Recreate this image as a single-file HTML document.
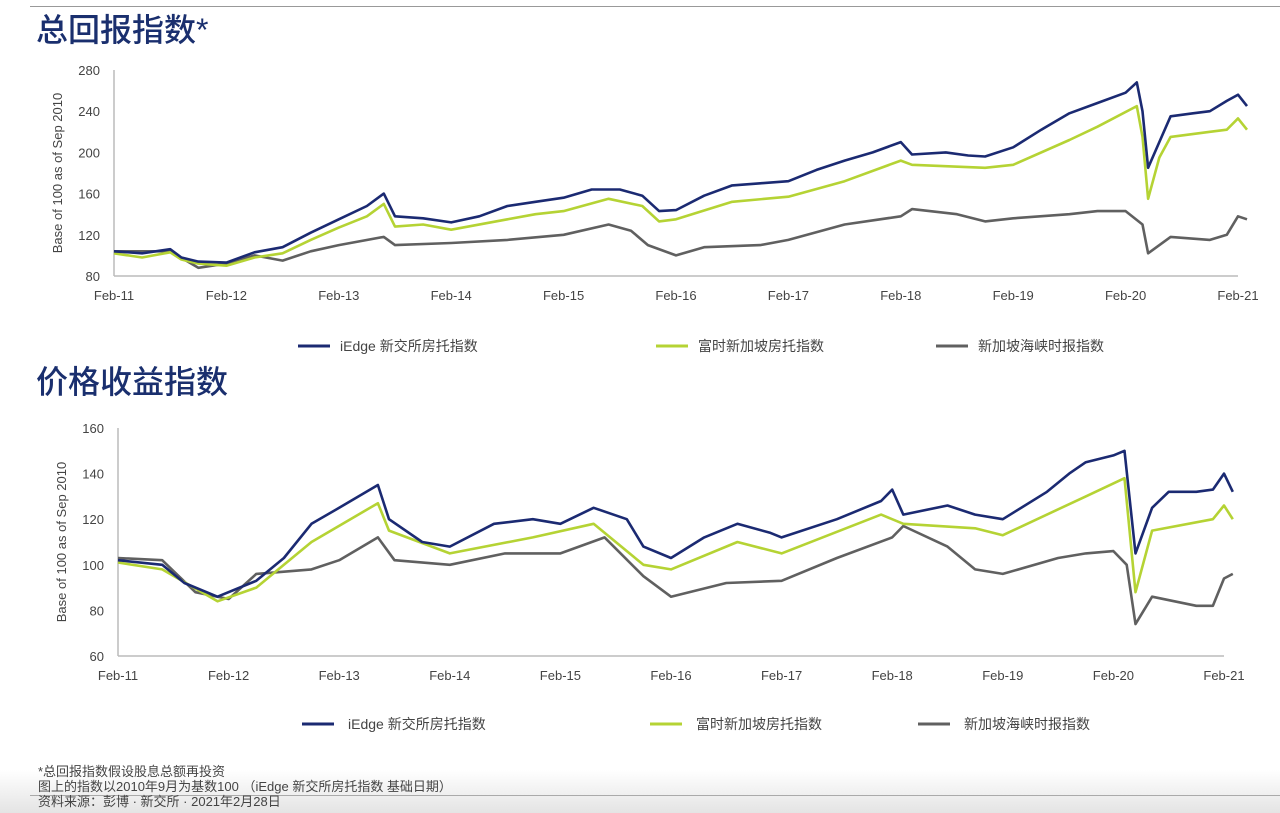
<!DOCTYPE html>
<html><head><meta charset="utf-8">
<style>
body{margin:0;width:1280px;height:813px;background:#fff;overflow:hidden;font-family:"Liberation Sans","Noto Sans CJK SC",sans-serif;position:relative}
.title{position:absolute;left:36px;font-size:32px;font-weight:500;color:#1a2f6e;font-family:"Liberation Sans","Noto Sans CJK SC",sans-serif}
.foot{position:absolute;left:38px;font-size:13px;color:#444;line-height:15px}
</style></head><body>
<div style="position:absolute;left:30px;top:6px;width:1250px;height:1px;background:#999"></div>
<div class="title" style="top:5px">总回报指数*</div>
<div class="title" style="top:357px">价格收益指数</div>
<div style="position:absolute;left:0;top:770px;width:1280px;height:43px;background:linear-gradient(#fff,#e4e4e4)"></div>
<div style="position:absolute;left:30px;top:795px;width:1250px;height:1px;background:#aaa"></div>
<div class="foot" style="top:764px">*总回报指数假设股息总额再投资<br>图上的指数以2010年9月为基数100 （iEdge 新交所房托指数 基础日期）<br>资料来源：彭博 · 新交所 · 2021年2月28日</div>
<svg id="svg" width="1280" height="813" style="position:absolute;left:0;top:0"></svg>
<script>
const xTickLabels=["Feb-11","Feb-12","Feb-13","Feb-14","Feb-15","Feb-16","Feb-17","Feb-18","Feb-19","Feb-20","Feb-21"];
const topYTicks=[80,120,160,200,240,280];
const botYTicks=[60,80,100,120,140,160];
const legendNames=["iEdge 新交所房托指数","富时新加坡房托指数","新加坡海峡时报指数"];
const topBlueT=[2011,2011.25,2011.5,2011.6,2011.75,2012,2012.25,2012.5,2012.75,2013,2013.25,2013.4,2013.5,2013.75,2014,2014.25,2014.5,2014.75,2015,2015.25,2015.5,2015.7,2015.85,2016,2016.25,2016.5,2016.75,2017,2017.25,2017.5,2017.75,2018,2018.1,2018.4,2018.6,2018.75,2019,2019.25,2019.5,2019.75,2020,2020.1,2020.15,2020.2,2020.3,2020.4,2020.6,2020.75,2020.9,2021,2021.08];
const topBlueV=[104,102,106,98,94,93,103,108,122,135,148,160,138,136,132,138,148,152,156,164,164,158,143,144,158,168,170,172,183,192,200,210,198,200,197,196,205,222,238,248,258,268,240,185,210,235,238,240,250,256,245];
const topGreenT=[2011,2011.25,2011.5,2011.6,2011.75,2012,2012.25,2012.5,2012.75,2013,2013.25,2013.4,2013.5,2013.75,2014,2014.5,2014.75,2015,2015.4,2015.7,2015.85,2016,2016.5,2017,2017.5,2018,2018.1,2018.75,2019,2019.5,2019.75,2020.1,2020.15,2020.2,2020.3,2020.4,2020.75,2020.9,2021,2021.08];
const topGreenV=[102,98,103,96,92,90,98,102,115,127,138,150,128,130,125,135,140,143,155,148,133,135,152,157,172,192,188,185,188,212,225,245,215,155,195,215,220,222,233,222];
const topGrayT=[2011,2011.5,2011.75,2012,2012.25,2012.5,2012.75,2013,2013.4,2013.5,2014,2014.5,2015,2015.4,2015.6,2015.75,2016,2016.25,2016.75,2017,2017.5,2018,2018.1,2018.5,2018.75,2019,2019.5,2019.75,2020,2020.15,2020.2,2020.4,2020.75,2020.9,2021,2021.08];
const topGrayV=[104,104,88,92,100,95,104,110,118,110,112,115,120,130,124,110,100,108,110,115,130,138,145,140,133,136,140,143,143,130,102,118,115,120,138,135];
const botBlueT=[2011,2011.4,2011.6,2011.9,2012.25,2012.5,2012.75,2013,2013.35,2013.45,2013.75,2014,2014.4,2014.75,2015,2015.3,2015.6,2015.75,2016,2016.3,2016.6,2016.9,2017,2017.5,2017.9,2018,2018.1,2018.5,2018.75,2019,2019.4,2019.6,2019.75,2020,2020.1,2020.2,2020.35,2020.5,2020.75,2020.9,2021,2021.08];
const botBlueV=[102,100,92,86,93,103,118,125,135,120,110,108,118,120,118,125,120,108,103,112,118,114,112,120,128,133,122,126,122,120,132,140,145,148,150,105,125,132,132,133,140,132];
const botGreenT=[2011,2011.4,2011.9,2012.25,2012.5,2012.75,2013.35,2013.45,2014,2014.75,2015.3,2015.75,2016,2016.6,2017,2017.9,2018.1,2018.75,2019,2019.75,2020.1,2020.2,2020.35,2020.9,2021,2021.08];
const botGreenV=[101,98,84,90,100,110,127,115,105,112,118,100,98,110,105,122,118,116,113,130,138,88,115,120,126,120];
const botGrayT=[2011,2011.4,2011.7,2012,2012.25,2012.75,2013,2013.35,2013.5,2014,2014.5,2015,2015.4,2015.75,2016,2016.5,2017,2017.5,2018,2018.1,2018.5,2018.75,2019,2019.5,2019.75,2020,2020.12,2020.2,2020.35,2020.75,2020.9,2021,2021.08];
const botGrayV=[103,102,88,85,96,98,102,112,102,100,105,105,112,95,86,92,93,103,112,117,108,98,96,103,105,106,100,74,86,82,82,94,96];

const svg=document.getElementById('svg');const NS='http://www.w3.org/2000/svg';
function mk(tag,attrs,txt){const e=document.createElementNS(NS,tag);for(const k in attrs)e.setAttribute(k,attrs[k]);if(txt!==undefined)e.textContent=txt;svg.appendChild(e);return e;}
const colors=["#1b2a72","#b5d334","#606060"];
function chart(cfg){
  const xs=t=>cfg.x0+(t-2011)/10*(cfg.x1-cfg.x0);
  const ys=v=>cfg.y1+(v-cfg.ymin)/(cfg.ymax-cfg.ymin)*(cfg.y0-cfg.y1);
  let l=mk('line',{x1:cfg.x0,y1:cfg.y0,x2:cfg.x0,y2:cfg.y1,stroke:'#bbb','stroke-width':1.5});
  
  l=mk('line',{x1:cfg.x0,y1:cfg.y1,x2:cfg.x1,y2:cfg.y1,stroke:'#bbb','stroke-width':1.5});
  
  cfg.yt.forEach(v=>{const t=mk('text',{x:cfg.x0-14,y:ys(v)+5,'text-anchor':'end','font-size':13,fill:'#444'},v);
    });
  xTickLabels.forEach((s,i)=>{const t=mk('text',{x:xs(2011+i),y:cfg.y1+24,'text-anchor':'middle','font-size':13,fill:'#444'},s);
    });
  const yc=(cfg.y0+cfg.y1)/2;
  const at=mk('text',{x:0,y:0,transform:`translate(${cfg.x0-52},${yc}) rotate(-90)`,'text-anchor':'middle','font-size':13,fill:'#444'},'Base of 100 as of Sep 2010');
  
  [[cfg.grT,cfg.grV,2],[cfg.gT,cfg.gV,1],[cfg.bT,cfg.bV,0]].forEach(([T,V,ci])=>{
    const d=T.map((t,i)=>(i?'L':'M')+xs(t).toFixed(1)+','+ys(V[i]).toFixed(1)).join('');
    const p=mk('path',{d:d,fill:'none',stroke:colors[ci],'stroke-width':2.6,'stroke-linejoin':'round'});
    
  });
  cfg.leg.forEach((lx,i)=>{
    const ln=mk('line',{x1:lx,y1:cfg.ly,x2:lx+32,y2:cfg.ly,stroke:colors[i],'stroke-width':3});
    
    const t=mk('text',{x:lx+cfg.lgap,y:cfg.ly+5,'font-size':14,fill:'#444'},legendNames[i]);
    
  });
}
chart({p:'total-return',x0:114,x1:1238,y0:70,y1:276,ymin:80,ymax:280,yt:topYTicks,
  bT:topBlueT,bV:topBlueV,gT:topGreenT,gV:topGreenV,grT:topGrayT,grV:topGrayV,leg:[298,656,936],lgap:42,ly:346});
chart({p:'price-return',x0:118,x1:1224,y0:428,y1:656,ymin:60,ymax:160,yt:botYTicks,
  bT:botBlueT,bV:botBlueV,gT:botGreenT,gV:botGreenV,grT:botGrayT,grV:botGrayV,leg:[302,650,918],lgap:46,ly:724});
</script>
</body></html>
